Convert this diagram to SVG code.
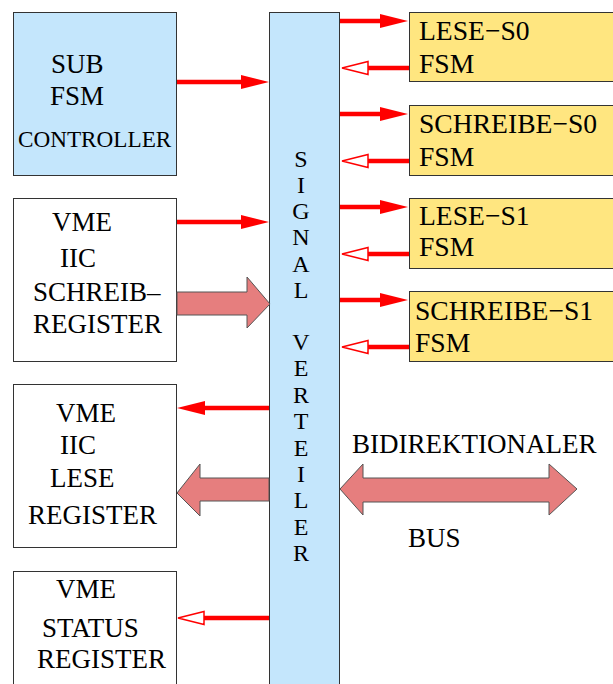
<svg xmlns="http://www.w3.org/2000/svg" width="613" height="684" viewBox="0 0 613 684">
  <style>
    text { font-family: "Liberation Serif", "Times New Roman", serif; fill: #000; }
    .big { font-size: 27px; }
    .fsm { font-size: 27.6px; }
    .mid { font-size: 27px; }
    .small { font-size: 23.2px; }
    .vert { font-size: 24px; text-anchor: middle; }
    .blue { fill: #c4e6fc; stroke: #333; stroke-width: 1; }
    .yellow { fill: #ffe680; stroke: #333; stroke-width: 1; }
    .white { fill: #fff; stroke: #333; stroke-width: 1; }
    .sig { stroke: #ff0000; stroke-width: 4.5; fill: none; }
    .fat { fill: #e67e7e; stroke: #555; stroke-width: 1; }
  </style>
  <defs>
    <marker id="solid" markerUnits="userSpaceOnUse" markerWidth="30" markerHeight="16" refX="0" refY="7" orient="auto" overflow="visible">
      <path d="M0,0 L28,7 L0,14 z" fill="#ff0000"/>
    </marker>
    <marker id="hollow" markerUnits="userSpaceOnUse" markerWidth="30" markerHeight="16" refX="0" refY="6.5" orient="auto" overflow="visible">
      <path d="M0,0 L26,6.5 L0,13 z" fill="#fff" stroke="#ff0000" stroke-width="1.5"/>
    </marker>
  </defs>

  <!-- SUB FSM controller -->
  <g id="sub-fsm">
    <rect class="blue" x="13.5" y="12.5" width="163" height="163"/>
    <text class="mid" x="51" y="73">SUB</text>
    <text class="mid" x="50" y="105">FSM</text>
    <text class="small" x="18" y="147">CONTROLLER</text>
  </g>

  <!-- write register -->
  <g id="vme-iic-schreib">
    <rect class="white" x="13.5" y="198.5" width="163" height="163"/>
    <text class="big" x="52" y="231">VME</text>
    <text class="big" x="60" y="267">IIC</text>
    <text class="big" x="33" y="301">SCHREIB–</text>
    <text class="big" x="33" y="333">REGISTER</text>
  </g>

  <!-- read register -->
  <g id="vme-iic-lese">
    <rect class="white" x="13.5" y="384.5" width="163" height="163"/>
    <text class="big" x="56" y="422">VME</text>
    <text class="big" x="60" y="454">IIC</text>
    <text class="big" x="50" y="487">LESE</text>
    <text class="big" x="28" y="524">REGISTER</text>
  </g>

  <!-- status register -->
  <g id="vme-status">
    <rect class="white" x="13.5" y="571.5" width="163" height="140"/>
    <text class="big" x="56" y="598">VME</text>
    <text class="big" x="42" y="637">STATUS</text>
    <text class="big" x="37" y="668">REGISTER</text>
  </g>

  <!-- signal distributor -->
  <g id="signal-verteiler">
    <rect class="blue" x="269.5" y="12.5" width="70" height="700"/>
    <text class="vert" x="301" y="167">S</text>
    <text class="vert" x="301" y="193">I</text>
    <text class="vert" x="301" y="219">G</text>
    <text class="vert" x="301" y="245">N</text>
    <text class="vert" x="301" y="272">A</text>
    <text class="vert" x="301" y="298">L</text>
    <text class="vert" x="301" y="350">V</text>
    <text class="vert" x="301" y="376">E</text>
    <text class="vert" x="301" y="403">R</text>
    <text class="vert" x="301" y="429">T</text>
    <text class="vert" x="301" y="456">E</text>
    <text class="vert" x="301" y="482">I</text>
    <text class="vert" x="301" y="508">L</text>
    <text class="vert" x="301" y="535">E</text>
    <text class="vert" x="301" y="561">R</text>
  </g>

  <!-- state machines -->
  <g id="lese-s0">
    <rect class="yellow" x="409.5" y="12.5" width="210" height="69"/>
    <text class="fsm" x="419" y="40">LESE−S0</text>
    <text class="fsm" x="419" y="73">FSM</text>
  </g>
  <g id="schreibe-s0">
    <rect class="yellow" x="409.5" y="105.5" width="210" height="70"/>
    <text class="fsm" x="419" y="133">SCHREIBE−S0</text>
    <text class="fsm" x="419" y="166">FSM</text>
  </g>
  <g id="lese-s1">
    <rect class="yellow" x="409.5" y="198.5" width="210" height="70"/>
    <text class="fsm" x="419" y="225">LESE−S1</text>
    <text class="fsm" x="419" y="256">FSM</text>
  </g>
  <g id="schreibe-s1">
    <rect class="yellow" x="409.5" y="291.5" width="210" height="70"/>
    <text class="fsm" x="415" y="320">SCHREIBE−S1</text>
    <text class="fsm" x="415" y="352">FSM</text>
  </g>

  <!-- bus label -->
  <g id="bus">
    <text class="big" x="352" y="453">BIDIREKTIONALER</text>
    <text class="big" x="408" y="547">BUS</text>
  </g>

  <!-- connectors -->
  <g id="connectors">
    <line class="sig" x1="177" y1="82" x2="241" y2="82" marker-end="url(#solid)"/>
    <line class="sig" x1="177" y1="222" x2="241" y2="222" marker-end="url(#solid)"/>

    <line class="sig" x1="340" y1="21" x2="380" y2="21" marker-end="url(#solid)"/>
    <line class="sig" x1="409" y1="68" x2="368" y2="68" marker-end="url(#hollow)"/>
    <line class="sig" x1="340" y1="114" x2="380" y2="114" marker-end="url(#solid)"/>
    <line class="sig" x1="409" y1="161" x2="368" y2="161" marker-end="url(#hollow)"/>
    <line class="sig" x1="340" y1="207" x2="380" y2="207" marker-end="url(#solid)"/>
    <line class="sig" x1="409" y1="254" x2="368" y2="254" marker-end="url(#hollow)"/>
    <line class="sig" x1="340" y1="300" x2="380" y2="300" marker-end="url(#solid)"/>
    <line class="sig" x1="409" y1="347" x2="368" y2="347" marker-end="url(#hollow)"/>

    <line class="sig" x1="269" y1="408" x2="205" y2="408" marker-end="url(#solid)"/>
    <line class="sig" x1="269" y1="618" x2="204" y2="618" marker-end="url(#hollow)"/>

    <polygon class="fat" points="177,292 247,292 247,277 270,304 247,328 247,315 177,315"/>
    <polygon class="fat" points="269,478 200,478 200,464 177,493 200,516 200,501 269,501"/>
    <polygon class="fat" points="340,489 363,464 363,478 549,478 549,464 577,489 549,515 549,502 363,502 363,515"/>
  </g>
</svg>
